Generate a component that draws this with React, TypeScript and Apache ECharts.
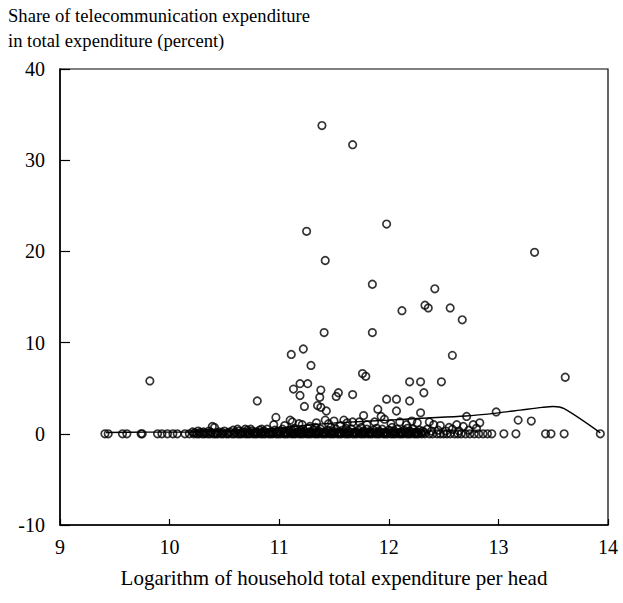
import React, { useEffect, useRef } from "react";
import * as echarts from "echarts";

const yTitleLines = ["Share of telecommunication expenditure", "in total expenditure (percent)"];
const xTitle = "Logarithm of household total expenditure per head";

// households with zero share
const zeroX = [
  9.41, 9.44, 9.57, 9.61, 9.74, 9.75, 9.89, 9.93, 9.98, 10.03, 10.07, 10.14, 10.18,
  10.22, 10.25, 10.27, 10.3, 10.32, 10.35, 10.37, 10.4, 10.42, 10.44, 10.47, 10.49,
  10.52, 10.54, 10.57, 10.59, 10.62, 10.64, 10.66, 10.69, 10.71, 10.73, 10.76, 10.78,
  10.8, 10.83, 10.85, 10.87, 10.9, 10.92, 10.94, 10.97, 10.99, 11.01, 11.04, 11.06,
  11.08, 11.11, 11.13, 11.15, 11.18, 11.2, 11.22, 11.25, 11.27, 11.29, 11.32, 11.34,
  11.36, 11.39, 11.41, 11.43, 11.46, 11.48, 11.5, 11.53, 11.55, 11.57, 11.6, 11.62,
  11.64, 11.67, 11.69, 11.71, 11.74, 11.76, 11.78, 11.81, 11.83, 11.85, 11.88, 11.9,
  11.92, 11.95, 11.97, 11.99, 12.02, 12.04, 12.06, 12.09, 12.11, 12.13, 12.16, 12.18,
  12.2, 12.23, 12.25, 12.27, 12.3, 12.33, 12.37, 12.4, 12.44, 12.47, 12.5, 12.53,
  12.56, 12.6, 12.63, 12.66, 12.7, 12.74, 12.78, 12.82, 12.86, 12.9, 12.94, 13.05,
  13.16, 13.43, 13.48, 13.6, 13.93,
];

// dense low band
const lowPts: [number, number][] = [
  [10.21, 0.2], [10.26, 0.3], [10.31, 0.2], [10.36, 0.3], [10.45, 0.2], [10.5, 0.3],
  [10.55, 0.2], [10.58, 0.4], [10.63, 0.3], [10.67, 0.2], [10.71, 0.4], [10.75, 0.3],
  [10.79, 0.2], [10.82, 0.4], [10.86, 0.3], [10.89, 0.5], [10.93, 0.2], [10.96, 0.4],
  [11.0, 0.3], [11.03, 0.5], [11.06, 0.2], [11.09, 0.4], [11.12, 0.3], [11.14, 0.6],
  [11.17, 0.2], [11.2, 0.4], [11.23, 0.3], [11.26, 0.6], [11.28, 0.2], [11.31, 0.4],
  [11.33, 0.7], [11.36, 0.3], [11.38, 0.5], [11.41, 0.2], [11.44, 0.4], [11.47, 0.7],
  [11.49, 0.3], [11.52, 0.5], [11.55, 0.2], [11.58, 0.4], [11.61, 0.6], [11.63, 0.3],
  [11.66, 0.5], [11.69, 0.2], [11.72, 0.4], [11.75, 0.7], [11.77, 0.3], [11.8, 0.5],
  [11.83, 0.2], [11.86, 0.4], [11.89, 0.6], [11.91, 0.3], [11.94, 0.5], [11.97, 0.2],
  [12.0, 0.4], [12.03, 0.7], [12.05, 0.3], [12.08, 0.5], [12.11, 0.2], [12.14, 0.4],
  [12.17, 0.6], [12.19, 0.3], [12.22, 0.5], [12.25, 0.2], [12.28, 0.4], [12.31, 0.3],
  [12.35, 0.5], [12.39, 0.3], [12.45, 0.4], [12.52, 0.3], [12.58, 0.5], [12.64, 0.3],
  [12.73, 0.4], [12.8, 0.6],
];

// second layer of the dense band
const bandPts: [number, number][] = [
  [10.23, 0.1], [10.28, 0.15], [10.33, 0.1], [10.38, 0.15], [10.43, 0.1], [10.48, 0.15],
  [10.53, 0.1], [10.6, 0.15], [10.65, 0.1], [10.69, 0.15], [10.73, 0.1], [10.77, 0.15],
  [10.81, 0.1], [10.84, 0.15], [10.88, 0.1], [10.91, 0.15], [10.95, 0.1], [10.98, 0.15],
  [11.02, 0.1], [11.05, 0.15], [11.07, 0.1], [11.1, 0.15], [11.13, 0.1], [11.16, 0.15],
  [11.19, 0.1], [11.21, 0.15], [11.24, 0.1], [11.27, 0.15], [11.3, 0.1], [11.33, 0.15],
  [11.35, 0.1], [11.37, 0.15], [11.4, 0.1], [11.42, 0.15], [11.45, 0.1], [11.48, 0.15],
  [11.51, 0.1], [11.54, 0.15], [11.56, 0.1], [11.59, 0.15], [11.62, 0.1], [11.65, 0.15],
  [11.68, 0.1], [11.7, 0.15], [11.73, 0.1], [11.76, 0.15], [11.79, 0.1], [11.82, 0.15],
  [11.84, 0.1], [11.87, 0.15], [11.9, 0.1], [11.93, 0.15], [11.96, 0.1], [11.98, 0.15],
  [12.01, 0.1], [12.04, 0.15], [12.07, 0.1], [12.1, 0.15], [12.12, 0.1], [12.15, 0.15],
  [12.18, 0.1], [12.21, 0.15], [12.24, 0.1], [12.26, 0.15], [12.29, 0.1], [12.32, 0.15],
];

const midPts: [number, number][] = [
  [10.95, 1.0], [11.05, 0.9], [11.12, 1.3], [11.21, 1.0], [11.28, 0.8], [11.34, 1.2],
  [11.45, 1.1], [11.5, 1.4], [11.56, 0.9], [11.62, 1.2], [11.73, 1.3], [11.8, 1.0],
  [11.87, 1.3], [11.93, 1.9], [11.96, 1.6], [12.02, 1.1], [12.1, 1.3], [12.16, 1.0],
  [12.21, 1.4], [12.26, 1.2], [12.37, 1.3], [12.41, 1.0], [12.47, 0.9], [12.55, 0.7],
  [12.62, 1.0], [12.68, 0.8],
];

const highPts: [number, number][] = [
  [9.82, 5.8], [11.39, 33.8], [11.67, 31.7], [11.25, 22.2], [11.98, 23.0], [11.42, 19.0],
  [11.85, 16.4], [12.42, 15.9], [13.33, 19.9], [12.33, 14.1], [12.36, 13.8], [12.12, 13.5],
  [12.56, 13.8], [12.67, 12.5], [11.41, 11.1], [11.85, 11.1], [11.11, 8.7], [11.22, 9.3],
  [12.58, 8.6], [11.29, 7.5], [11.76, 6.6], [11.79, 6.3], [13.61, 6.2], [12.19, 5.7],
  [12.29, 5.7], [12.48, 5.7], [11.13, 4.9], [11.19, 5.5], [11.26, 5.5], [11.38, 4.8],
  [12.32, 4.5], [11.19, 4.2], [11.37, 4.0], [11.52, 4.1], [11.54, 4.5], [11.67, 4.3],
  [10.8, 3.6], [11.98, 3.8], [12.07, 3.8], [12.19, 3.6], [11.23, 3.0], [11.35, 3.1],
  [11.38, 2.9], [11.43, 2.5], [12.07, 2.5], [12.29, 2.3], [11.9, 2.7], [10.97, 1.8],
  [11.1, 1.5], [11.18, 1.1], [11.42, 1.5], [11.77, 2.0], [11.59, 1.5], [11.67, 1.3],
  [12.71, 1.9], [12.98, 2.4], [13.18, 1.5], [13.3, 1.4], [12.77, 1.0], [12.83, 1.2],
  [10.39, 0.8], [10.41, 0.7], [10.62, 0.5], [10.69, 0.5], [10.74, 0.5], [10.84, 0.5],
];

// nonparametric regression curve
const curveX = [9.42, 9.8, 10.2, 10.6, 10.9, 11.1, 11.3, 11.6, 12.0, 12.3, 12.7, 13.0, 13.2, 13.4, 13.5, 13.6, 13.93];
const curveY = [0.15, 0.18, 0.2, 0.3, 0.5, 0.75, 1.0, 1.25, 1.5, 1.7, 1.95, 2.3, 2.6, 2.9, 3.0, 2.75, 0.1];

const FONT = "Liberation Serif";

export default function App() {
  const ref = useRef<HTMLDivElement>(null);
  useEffect(() => {
    if (!ref.current) return;
    const chart = echarts.init(ref.current, null, { renderer: "svg" });
    const scatterData = [
      ...zeroX.map((x) => [x, 0]),
      ...bandPts,
      ...lowPts,
      ...midPts,
      ...highPts,
    ];
    chart.setOption({
      animation: false,
      backgroundColor: "#fff",
      textStyle: { fontFamily: FONT },
      grid: { left: 60, right: 15, top: 69, bottom: 78, show: true, borderColor: "#000", borderWidth: 1.2 },
      xAxis: {
        type: "value",
        min: 9,
        max: 14,
        interval: 1,
        axisLine: { show: true, onZero: false, lineStyle: { color: "#000", width: 1.5 } },
        axisTick: { show: true, inside: true, length: 6, lineStyle: { color: "#000", width: 1.2 } },
        splitLine: { show: false },
        axisLabel: { color: "#000", fontFamily: FONT, fontSize: 20, margin: 12 },
      },
      yAxis: {
        type: "value",
        min: -10,
        max: 40,
        interval: 10,
        axisLine: { show: true, onZero: false, lineStyle: { color: "#000", width: 1.5 } },
        axisTick: { show: true, inside: true, length: 10, lineStyle: { color: "#000", width: 1.2 } },
        splitLine: { show: false },
        axisLabel: { color: "#000", fontFamily: FONT, fontSize: 20, margin: 15 },
      },
      graphic: [
        { type: "text", left: 8, top: 6, style: { text: yTitleLines[0], fontFamily: FONT, fontSize: 18.6, fill: "#000" } },
        { type: "text", left: 8, top: 31, style: { text: yTitleLines[1], fontFamily: FONT, fontSize: 18.6, fill: "#000" } },
        { type: "text", x: 334, y: 578, style: { text: xTitle, fontFamily: FONT, fontSize: 21, fill: "#000", align: "center", verticalAlign: "middle" } },
      ],
      series: [
        {
          type: "scatter",
          data: scatterData,
          symbol: "circle",
          symbolSize: 7.5,
          itemStyle: { color: "rgba(0,0,0,0)", borderColor: "#000", borderWidth: 1.7 },
        },
        {
          type: "line",
          data: curveX.map((x, i) => [x, curveY[i]]),
          smooth: 0.3,
          showSymbol: false,
          lineStyle: { color: "#000", width: 1.4 },
        },
      ],
    });
    return () => chart.dispose();
  }, []);
  return (
    <div
      ref={ref}
      style={{ position: "fixed", left: 0, top: 0, width: 623, height: 603 }}
    />
  );
}
